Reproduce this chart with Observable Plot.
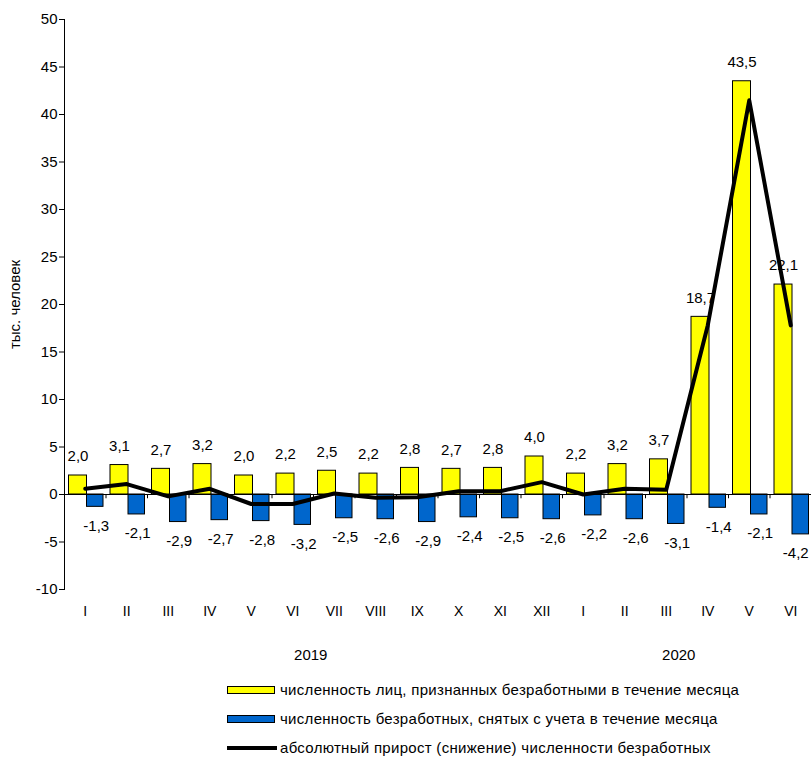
<!DOCTYPE html>
<html>
<head>
<meta charset="utf-8">
<script src="https://cdn.jsdelivr.net/npm/d3@7"></script>
<script src="https://cdn.jsdelivr.net/npm/@observablehq/plot@0.6"></script>
<style>
  html, body { margin: 0; padding: 0; background: #fff; }
  #wrap { width: 811px; position: relative; font-family: "Liberation Sans", Arial, sans-serif; }
  #legend { margin-top: 3px; padding-left: 227px; font-size: 15px; color: #000; }
  .row { height: 29px; display: flex; align-items: center; white-space: nowrap; }
  .row span.t { letter-spacing: 0.3px; }
  .sw { width: 46px; height: 6px; border: 1px solid #000; margin-right: 5px; box-sizing: content-box; }
  .ln { width: 50px; height: 4px; background: #000; margin-right: 3px; }
</style>
</head>
<body>
<div id="wrap">
  <div id="chart"></div>
  <div id="legend"></div>
</div>
<script>
const months = ["I","II","III","IV","V","VI","VII","VIII","IX","X","XI","XII","I","II","III","IV","V","VI"];
const years = ["2019","2019","2019","2019","2019","2019","2019","2019","2019","2019","2019","2019","2020","2020","2020","2020","2020","2020"];
const registered = [2.0,3.1,2.7,3.2,2.0,2.2,2.5,2.2,2.8,2.7,2.8,4.0,2.2,3.2,3.7,18.7,43.5,22.1];
const removed = [-1.3,-2.1,-2.9,-2.7,-2.8,-3.2,-2.5,-2.6,-2.9,-2.4,-2.5,-2.6,-2.2,-2.6,-3.1,-1.4,-2.1,-4.2];
const netChange = [0.6,1.1,-0.2,0.6,-1.0,-1.0,0.1,-0.35,-0.3,0.35,0.35,1.3,0.0,0.6,0.5,17.8,41.5,17.8];
const yTicks = [-10,-5,0,5,10,15,20,25,30,35,40,45,50];
const yearNames = ["2019","2020"];
const seriesNames = [
  "численность лиц, признанных безработными в течение месяца",
  "численность безработных, снятых с учета в течение месяца",
  "абсолютный прирост (снижение) численности безработных"
];
const colors = ["#FFFF00", "#0066CC", "#000000"];

const keys = months.map((m, i) => String(i));
const rows = months.map((m, i) => ({key: keys[i], month: m, year: years[i], registered: registered[i], removed: removed[i], net: netChange[i]}));
const fmt = v => v.toFixed(1).replace(".", ",");
const lastKey = keys[keys.length - 1];

// year labels anchored at the middle month of each year
const yearRows = yearNames.map(y => {
  const idx = rows.filter(r => r.year === y).map(r => +r.key);
  return {year: y, key: String(idx[Math.floor((idx.length - 1) / 2)])};
});

const bw = 41.5;
const chart = Plot.plot({
  width: 811,
  height: 672,
  marginLeft: 64,
  marginRight: 0,
  marginTop: 19,
  marginBottom: 83,
  style: {fontFamily: "Liberation Sans, Arial, sans-serif", fontSize: "15px", color: "#000", background: "#fff", overflow: "visible"},
  x: {type: "band", domain: keys, padding: 0, round: false},
  y: {domain: [-10, 50]},
  marks: [
    Plot.barY(rows, {x: "key", y: "registered", fill: colors[0], stroke: "#000", strokeWidth: 1, insetLeft: 4.5, insetRight: 19}),
    Plot.barY(rows, {x: "key", y: "removed", fill: colors[1], stroke: "#000", strokeWidth: 1, insetLeft: 22.5, insetRight: 2.5}),
    Plot.ruleY([0], {stroke: "#000", strokeWidth: 1}),
    Plot.ruleX(keys.slice(1), {x: d => d, y1: 0, y2: -0.45, dx: -bw / 2, stroke: "#000"}),
    Plot.lineY(rows, {x: "key", y: "net", stroke: colors[2], strokeWidth: 4}),
    Plot.text(rows, {x: "key", y: "registered", text: d => fmt(d.registered), dx: -7.25, dy: -19, fontSize: 15, lineAnchor: "middle"}),
    Plot.text(rows, {filter: d => d.key !== lastKey, x: "key", y: "removed", text: d => fmt(d.removed), dx: 11, dy: 19, fontSize: 15, lineAnchor: "middle"}),
    Plot.text(rows, {filter: d => d.key === lastKey, x: "key", y: "removed", text: d => fmt(d.removed), dx: 5, dy: 19, fontSize: 15, lineAnchor: "middle"}),
    Plot.axisY({ticks: yTicks, tickFormat: d => String(d), tickSize: 5, tickPadding: 2, fontSize: 15,
      label: "тыс. человек", labelAnchor: "center", labelArrow: "none", labelOffset: 55}),
    Plot.frame({anchor: "left"}),
    Plot.axisX({tickFormat: k => months[+k], tickSize: 0, tickPadding: 17, fontSize: 14, label: null}),
    Plot.text(yearRows.slice(0, 1), {x: "key", text: "year", frameAnchor: "bottom", dy: 66, dx: 18, fontSize: 15, lineAnchor: "middle"}),
    Plot.text(yearRows.slice(1), {x: "key", text: "year", frameAnchor: "bottom", dy: 66, dx: 12.5, fontSize: 15, lineAnchor: "middle"})
  ]
});
document.getElementById("chart").appendChild(chart);

const legend = document.getElementById("legend");
seriesNames.forEach((name, i) => {
  const row = document.createElement("div");
  row.className = "row";
  const sw = document.createElement("span");
  sw.className = i < 2 ? "sw" : "ln";
  sw.style.background = colors[i];
  const t = document.createElement("span");
  t.className = "t";
  t.textContent = name;
  row.appendChild(sw);
  row.appendChild(t);
  legend.appendChild(row);
});
</script>
</body>
</html>
